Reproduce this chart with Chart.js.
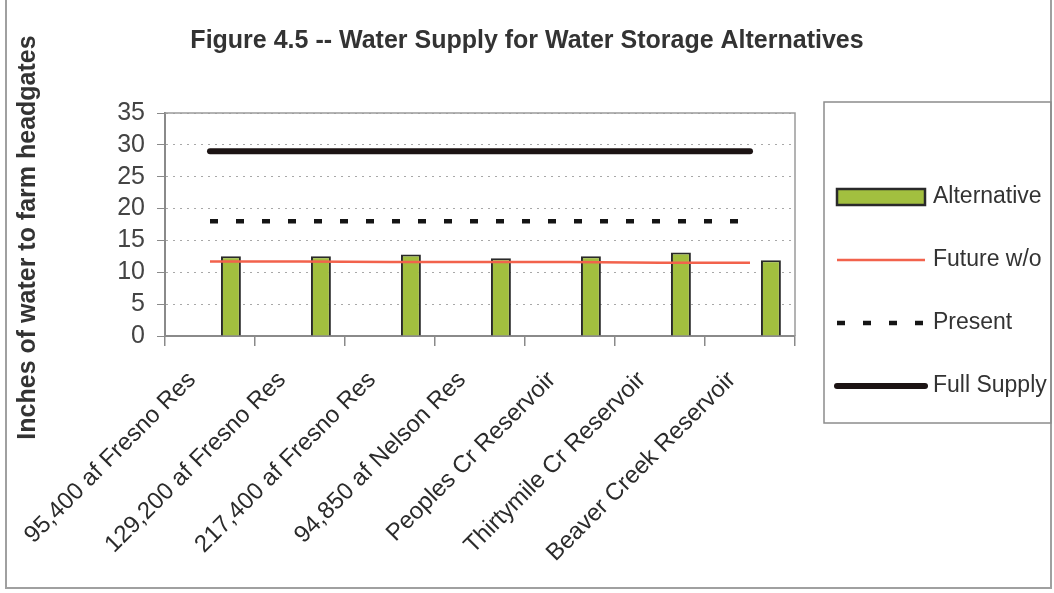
<!DOCTYPE html>
<html>
<head>
<meta charset="utf-8">
<script src="https://cdn.jsdelivr.net/npm/chart.js@4.4.1/dist/chart.umd.min.js"></script>
<style>
  html, body { margin: 0; padding: 0; background: #fff; }
  #wrap { width: 1054px; height: 593px; position: relative; }
</style>
</head>
<body>
<div id="wrap"><canvas id="c" width="1054" height="593"></canvas></div>
<script>
// Water supply (inches at farm headgates) for each storage alternative
const categories = [
  '95,400 af Fresno Res',
  '129,200 af Fresno Res',
  '217,400 af Fresno Res',
  '94,850 af Nelson Res',
  'Peoples Cr Reservoir',
  'Thirtymile Cr Reservoir',
  'Beaver Creek Reservoir'
];
const alternative   = [12.5, 12.5, 12.8, 12.2, 12.5, 13.1, 11.9];
const futureWithout = [11.7, 11.7, 11.6, 11.6, 11.6, 11.5, 11.5];
const present       = [18, 18, 18, 18, 18, 18, 18];
const fullSupply    = [29, 29, 29, 29, 29, 29, 29];
const yTicks        = [0, 5, 10, 15, 20, 25, 30, 35];

const FONT = "'Liberation Sans', Arial, sans-serif";
const Y_TITLE = 'Inches of water to farm headgates';
const legendOrder = ['Alternative', 'Future w/o', 'Present', 'Full Supply'];

// white page, outer frame and the plot-area frame
const frame = {
  id: 'frame',
  beforeDraw(chart) {
    const { ctx, width, height } = chart;
    ctx.save();
    ctx.fillStyle = '#fff';
    ctx.fillRect(0, 0, width, height);
    ctx.strokeStyle = '#a0a0a0';
    ctx.lineWidth = 2;
    ctx.beginPath();
    ctx.moveTo(6, 0); ctx.lineTo(6, height - 5);
    ctx.lineTo(width - 3, height - 5); ctx.lineTo(width - 3, 0);
    ctx.stroke();
    ctx.restore();
  },
  beforeDatasetsDraw(chart) {
    const { ctx, chartArea: a } = chart;
    ctx.save();
    ctx.strokeStyle = '#9a9a9a';
    ctx.lineWidth = 1.5;
    ctx.beginPath();
    ctx.moveTo(a.left, a.top); ctx.lineTo(a.right, a.top); ctx.lineTo(a.right, a.bottom);
    ctx.stroke();
    ctx.restore();
  }
};

// rotated value-axis title, sitting a little below the middle of the plot
const axisTitle = {
  id: 'axisTitle',
  afterDraw(chart) {
    const { ctx, chartArea: a } = chart;
    ctx.save();
    ctx.translate(28, (a.top + a.bottom) / 2 + 13);
    ctx.rotate(-Math.PI / 2);
    ctx.fillStyle = '#333';
    ctx.font = 'bold 25px ' + FONT;
    ctx.textAlign = 'center';
    ctx.textBaseline = 'middle';
    ctx.fillText(Y_TITLE, 0, 0);
    ctx.restore();
  }
};

// boxed legend to the right of the plot
const legendPanel = {
  id: 'legendPanel',
  afterDraw(chart) {
    const { ctx, chartArea: a } = chart;
    const left = a.right + 29, top = a.top - 11;
    const right = chart.width - 3, bottom = a.bottom + 87;
    ctx.save();
    ctx.strokeStyle = '#8c8c8c';
    ctx.lineWidth = 1.5;
    ctx.strokeRect(left, top, right - left, bottom - top);
    const symX = left + 13, symW = 88, textX = left + 109;
    legendOrder.forEach((name, i) => {
      const ds = chart.data.datasets.find(d => d.label === name);
      const y = top + 95 + i * 63;
      if (ds.type === 'bar') {
        ctx.fillStyle = ds.backgroundColor;
        ctx.fillRect(symX, y - 8, symW, 16);
        ctx.strokeStyle = ds.borderColor;
        ctx.lineWidth = 2.5;
        ctx.strokeRect(symX, y - 8, symW, 16);
      } else {
        ctx.strokeStyle = ds.borderColor;
        ctx.lineWidth = ds.borderWidth;
        ctx.lineCap = ds.borderCapStyle || 'butt';
        ctx.setLineDash(ds.borderDash || []);
        ctx.beginPath();
        ctx.moveTo(symX, y); ctx.lineTo(symX + symW, y);
        ctx.stroke();
        ctx.setLineDash([]);
        ctx.lineCap = 'butt';
      }
      ctx.fillStyle = '#333';
      ctx.font = '23px ' + FONT;
      ctx.textBaseline = 'middle';
      ctx.textAlign = 'left';
      ctx.fillText(name, textX, y);
    });
    ctx.restore();
  }
};

new Chart(document.getElementById('c'), {
  type: 'bar',
  data: {
    labels: categories,
    datasets: [
      { type: 'line', label: 'Full Supply', data: fullSupply, borderColor: '#1c1414',
        borderWidth: 6, borderCapStyle: 'round', pointRadius: 0, order: 1 },
      { type: 'line', label: 'Present', data: present, borderColor: '#151515',
        borderWidth: 4.5, borderDash: [8, 18], pointRadius: 0, order: 1 },
      { type: 'line', label: 'Future w/o', data: futureWithout, borderColor: '#f2624c',
        borderWidth: 2.5, pointRadius: 0, order: 1 },
      // unused first series: keeps each bar in the right half of its category
      { type: 'bar', label: 'blank', data: categories.map(() => null), order: 2 },
      { type: 'bar', label: 'Alternative', data: alternative, backgroundColor: '#a2bf3f',
        borderColor: '#2a2a2a', borderWidth: 2, order: 2 }
    ]
  },
  options: {
    responsive: false,
    animation: false,
    devicePixelRatio: 1,
    events: [],
    layout: { padding: 0 },
    datasets: { bar: { categoryPercentage: 0.93, barPercentage: 0.476 } },
    plugins: {
      legend: { display: false },
      tooltip: { enabled: false },
      title: {
        display: true,
        text: 'Figure 4.5 -- Water Supply for Water Storage Alternatives',
        color: '#333',
        font: { family: FONT, size: 25, weight: 'bold' },
        padding: { top: 26, bottom: 57 }
      }
    },
    scales: {
      x: {
        offset: true,
        grid: { display: true, offset: true, drawOnChartArea: false, tickLength: 10,
                color: '#8a8a8a', lineWidth: 1.5 },
        border: { display: true, color: '#8a8a8a', width: 2 },
        ticks: { autoSkip: false, maxRotation: 45, minRotation: 45, padding: 20,
                 labelOffset: -18, color: '#2b2b2b', font: { family: FONT, size: 24 } },
        afterFit(s) { s.height = 257; }
      },
      y: {
        min: yTicks[0],
        max: yTicks[yTicks.length - 1],
        ticks: { autoSkip: false, stepSize: yTicks[1] - yTicks[0], padding: 12, color: '#444',
                 font: { family: FONT, size: 25 } },
        grid: { color: '#a8a8a8', lineWidth: 1, tickLength: 8, tickColor: '#8a8a8a',
                tickBorderDash: [] },
        border: { display: true, color: '#8a8a8a', width: 2, dash: [2, 5] },
        title: { display: false },
        afterFit(s) { s.width = 165; }
      },
      legendSpace: {
        type: 'linear', position: 'right', display: true,
        grid: { display: false, drawTicks: false },
        border: { display: false },
        ticks: { display: false },
        afterFit(s) { s.width = 259; }
      }
    }
  },
  plugins: [frame, axisTitle, legendPanel]
});
</script>
</body>
</html>
